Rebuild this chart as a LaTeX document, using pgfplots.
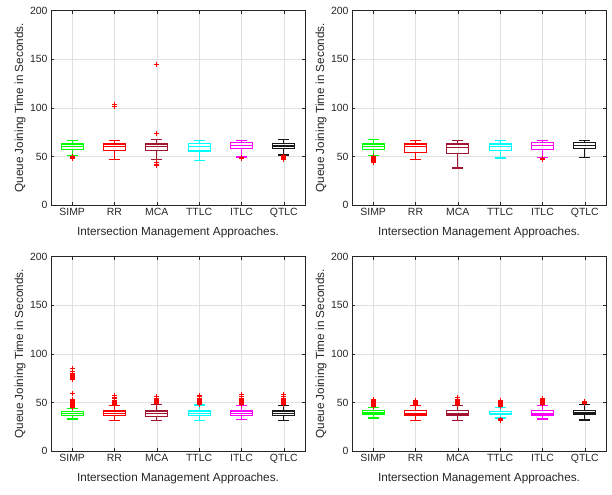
\documentclass[border=0pt]{standalone}
\usepackage{fontspec}
\setmainfont{Liberation Sans}
\usepackage{pgfplots}
\pgfplotsset{compat=1.18}
\usepgfplotslibrary{statistics}
\definecolor{cSIMP}{rgb}{0,1,0}
\definecolor{cRR}{rgb}{1,0,0}
\definecolor{cMCA}{rgb}{0.635,0.078,0.184}
\definecolor{cTTLC}{rgb}{0,1,1}
\definecolor{cITLC}{rgb}{1,0,1}
\definecolor{cQTLC}{rgb}{0.1,0.1,0.1}
\definecolor{axgray}{rgb}{0.15,0.15,0.15}
\pgfplotsset{
  qstyle/.style={
    width=254bp, height=194.3bp, scale only axis,
    xmin=0.5, xmax=6.5, ymin=0, ymax=200,
    xtick={1,2,3,4,5,6},
    xticklabels={SIMP,RR,MCA,TTLC,ITLC,QTLC},
    ytick={0,50,100,150,200},
    grid=major,
    grid style={color=black!12, line width=0.6pt},
    axis line style={axgray, line width=0.7pt},
    tick style={axgray, line width=0.5pt},
    tick align=inside,
    major tick length=3bp,
    boxplot/draw direction=y,
    /pgf/number format/assume math mode=true,
    ticklabel style={font=\fontsize{10.5}{12}\selectfont, text=axgray},
    label style={font=\fontsize{11.8}{13}\selectfont, text=axgray},
    xlabel={Intersection Management Approaches.},
    ylabel={Queue Joining Time in Seconds.},
    xlabel style={at={(axis description cs:0.5,-0.14)}, anchor=center},
    ylabel style={at={(axis description cs:-0.122,0.5)}, anchor=center},
  },
  outl/.style={only marks, mark=+, color=red, mark size=2.4bp, line width=0.9pt},
}
\newcommand{\bx}[7]{\addplot[#2, line width=1.2pt, solid, boxplot prepared={draw position=#1, lower whisker=#3, lower quartile=#4, median=#5, upper quartile=#6, upper whisker=#7, box extend=0.52, whisker extend=0.26}] coordinates {};}
\begin{document}
\begin{tikzpicture}
% ---------------- top left
\begin{axis}[qstyle, at={(51bp,290bp)}, anchor=south west]
\bx{1}{cSIMP}{51}{57.5}{60}{62.7}{66}
\bx{2}{cRR}{47}{55.8}{60}{62.7}{66}
\bx{3}{cMCA}{47}{55.8}{60}{62.7}{67.5}
\bx{4}{cTTLC}{45.5}{55.6}{60.5}{63}{66}
\bx{5}{cITLC}{49.5}{58}{61}{64.3}{66.3}
\bx{6}{cQTLC}{51.5}{58}{60.7}{63}{67.2}
\addplot[outl] coordinates {(1,50)(1,49)(1,48.5)(1,48)
 (2,101.5)(2,104)
 (3,144.5)(3,74)(3,43.5)(3,42)(3,41)
 (5,48.5)(5,47.5)
 (6,50.5)(6,50)(6,49)(6,48)(6,47)(6,46.5)};
\end{axis}
% ---------------- top right
\begin{axis}[qstyle, at={(352bp,290bp)}, anchor=south west]
\bx{1}{cSIMP}{51}{57.5}{60}{62.7}{67.5}
\bx{2}{cRR}{47}{53.8}{60.6}{62.7}{66}
\bx{3}{cMCA}{38}{52.7}{59.2}{62.7}{66}
\bx{4}{cTTLC}{48.3}{56.5}{60.6}{62.7}{66}
\bx{5}{cITLC}{49}{57.5}{61}{64}{66}
\bx{6}{cQTLC}{49}{57.9}{61.6}{64}{66}
\addplot[outl] coordinates {(1,50)(1,49)(1,48)(1,47)(1,46)(1,45)(1,44)
 (5,48)(5,47)(5,46.5)};
\end{axis}
% ---------------- bottom left
\begin{axis}[qstyle, at={(51bp,44bp)}, anchor=south west]
\bx{1}{cSIMP}{33}{36.4}{38.5}{40.5}{44}
\bx{2}{cRR}{31}{36.4}{38.8}{41.2}{46.5}
\bx{3}{cMCA}{31}{35.7}{38.8}{41.2}{47.8}
\bx{4}{cTTLC}{31}{36.4}{38.8}{41.2}{47.4}
\bx{5}{cITLC}{32.3}{36.4}{38.8}{41.2}{47}
\bx{6}{cQTLC}{31}{36.4}{38.8}{41.2}{47}
\addplot[outl] coordinates {
 (1,45)(1,46)(1,47)(1,48)(1,49)(1,50)(1,51)(1,52)(1,53)(1,59)
 (1,74)(1,75)(1,76)(1,77)(1,78)(1,79)(1,80)(1,81.5)(1,85)
 (2,47.5)(2,48.5)(2,49.5)(2,50.5)(2,51.5)(2,52.5)(2,54)(2,55.5)(2,57)
 (3,49)(3,50)(3,51)(3,52)(3,53)(3,54.5)(3,56)
 (4,48)(4,49)(4,50)(4,51)(4,52)(4,53)(4,54.5)(4,56)(4,57)
 (5,48)(5,49)(5,50)(5,51)(5,52)(5,53)(5,54.5)(5,56)(5,58)
 (6,48)(6,49)(6,50)(6,51)(6,52)(6,53)(6,54.5)(6,56)(6,58)};
\end{axis}
% ---------------- bottom right
\begin{axis}[qstyle, at={(352bp,44bp)}, anchor=south west]
\bx{1}{cSIMP}{34}{38}{39.5}{41.5}{45}
\bx{2}{cRR}{31}{37}{39}{41.5}{47}
\bx{3}{cMCA}{31}{37}{39}{41.5}{47}
\bx{4}{cTTLC}{34}{37.5}{39}{41}{45}
\bx{5}{cITLC}{33}{37}{39}{41.5}{47}
\bx{6}{cQTLC}{32}{38}{39.5}{42}{48}
\addplot[outl] coordinates {
 (1,46)(1,47)(1,48)(1,49)(1,50)(1,51)(1,52)(1,53)
 (2,48)(2,49)(2,50)(2,51)(2,52)
 (3,48)(3,49)(3,50)(3,51)(3,52)(3,53.5)(3,55)
 (4,46)(4,47)(4,48)(4,49)(4,50)(4,51)(4,52)(4,31)(4,32)(4,33)
 (5,48)(5,49)(5,50)(5,51)(5,52)(5,53)(5,54)
 (6,48.5)(6,49.5)(6,50.5)(6,51.5)};
\end{axis}
\pgfresetboundingbox
\path (0,0) rectangle (612bp,495bp);
\end{tikzpicture}
\end{document}
